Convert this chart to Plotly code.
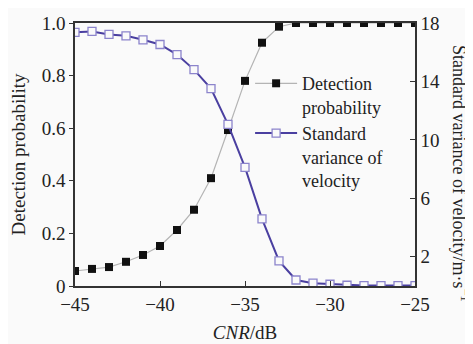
import plotly.graph_objects as go

cnr = [-45, -44, -43, -42, -41, -40, -39, -38, -37, -36, -35, -34, -33, -32, -31, -30, -29, -28, -27, -26, -25]
detection_prob = [0.057, 0.065, 0.072, 0.092, 0.118, 0.152, 0.213, 0.29, 0.41, 0.593, 0.78, 0.925, 0.986,
                  1.0, 1.0, 1.0, 1.0, 1.0, 1.0, 1.0, 1.0]
velocity_std = [17.36, 17.42, 17.22, 17.12, 16.85, 16.53, 15.84, 14.81, 13.51, 11.06, 8.12, 4.60, 1.72,
                0.41, 0.19, 0.12, 0.05, 0.03, 0.03, 0.03, 0.03]
left_ticks = [0, 0.2, 0.4, 0.6, 0.8, 1.0]
left_ticktext = ["0", "0.2", "0.4", "0.6", "0.8", "1.0"]
right_ticks = [2, 6, 10, 14, 18]
x_ticks = [-45, -40, -35, -30, -25]
x_ticktext = ["\u221245", "\u221240", "\u221235", "\u221230", "\u221225"]

FONT = "Liberation Serif, Times New Roman, serif"
BG = "#fafafa"
PH = 263.0  # plot height px
PW = 340.0  # plot width px
# the page body adds an 8 px offset; margins compensate for it
ML, MT = 67, 15
MR = 473 - ML - int(PW)
MB = 344 - MT - int(PH)

fig = go.Figure()
fig.add_trace(go.Scatter(
    x=cnr, y=detection_prob, name="Detection<br>probability", mode="lines+markers",
    line=dict(color="#b4b4b4", width=1.2),
    marker=dict(symbol="square", size=8, color="#111111"),
    cliponaxis=True, yaxis="y"))
fig.add_trace(go.Scatter(
    x=cnr, y=velocity_std, name="Standard<br>variance of<br>velocity", mode="lines+markers",
    line=dict(color="#4a3fa0", width=2),
    marker=dict(symbol="square", size=8, color=BG, line=dict(color="#8c84cc", width=1.3)),
    cliponaxis=True, yaxis="y2"))

fig.update_layout(
    width=473, height=344,
    margin=dict(l=ML, r=MR, t=MT, b=MB, autoexpand=False),
    paper_bgcolor=BG, plot_bgcolor=BG,
    font=dict(family=FONT, size=19, color="#222222"),
    showlegend=True,
    legend=dict(x=0.515, y=0.84, xanchor="left", yanchor="top", bgcolor="rgba(0,0,0,0)",
                valign="top", tracegroupgap=2, itemwidth=42, font=dict(size=18, family=FONT)),
    xaxis=dict(range=[-45, -25], tickvals=x_ticks, ticktext=x_ticktext, automargin=False,
               showline=True, linecolor="#333333", linewidth=1.5, mirror=True,
               ticks="inside", ticklen=5, tickcolor="#333333", showgrid=False, zeroline=False,
               title=dict(text="<i>CNR</i>/dB", standoff=12, font=dict(size=19))),
    yaxis=dict(range=[0, 1.0], tickvals=left_ticks, ticktext=left_ticktext, automargin=False,
               showline=True, linecolor="#333333", linewidth=1.5,
               ticks="outside", ticklen=4, tickcolor="#333333", showgrid=False, zeroline=False,
               title=dict(text="Detection probability", standoff=13, font=dict(size=19))),
    yaxis2=dict(range=[0, 18], tickvals=right_ticks, overlaying="y", side="right", automargin=False,
                showline=True, linecolor="#333333", linewidth=1.5,
                ticks="inside", ticklen=5, tickcolor="#333333", showgrid=False, zeroline=False),
    annotations=[dict(text="Standard variance of velocity/m\u00b7s<sup>\u22121</sup>",
                      xref="paper", yref="paper", x=(453 - ML) / PW, y=(278 - 165) / PH,
                      xanchor="center", yanchor="middle", textangle=90, showarrow=False,
                      font=dict(size=18, family=FONT, color="#222222"))],
)

fig.write_html("out.html")
